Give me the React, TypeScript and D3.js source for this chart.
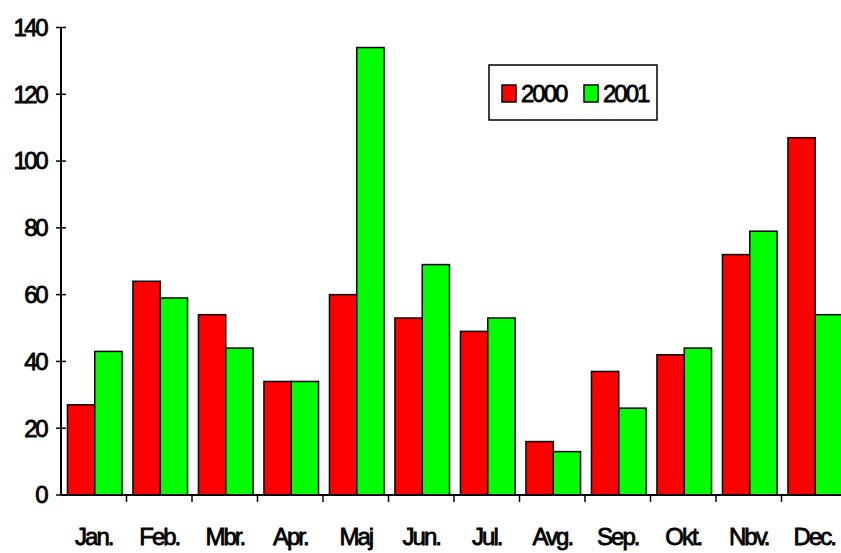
import React from 'react'
import * as d3 from 'd3'

const months = ['Jan.', 'Feb.', 'Mbr.', 'Apr.', 'Maj', 'Jun.', 'Jul.', 'Avg.', 'Sep.', 'Okt.', 'Nbv.', 'Dec.']
const series = ['2000', '2001']
const values2000 = [27, 64, 54, 34, 60, 53, 49, 16, 37, 42, 72, 107]
const values2001 = [43, 59, 44, 34, 134, 69, 53, 13, 26, 44, 79, 54]
const yTicks = [0, 20, 40, 60, 80, 100, 120, 140]
const colors = ['#ff0000', '#00ff00']

const W = 841
const H = 553
const font = '"Liberation Sans", Arial, sans-serif'

export default function App() {
  const x0 = d3.scaleBand().domain(months).range([61, 847]).paddingInner(0).paddingOuter(0)
  const x1 = d3.scaleBand().domain(series).range([0, x0.bandwidth()]).paddingInner(0).paddingOuter(0.2)
  const y = d3.scaleLinear().domain([0, 140]).range([495, 27.5])
  const data = [values2000, values2001]

  return (
    <svg width={W} height={H} style={{ position: 'absolute', left: 0, top: 0, background: '#fff' }}>
      <rect width={W} height={H} fill="#fff" />
      {months.map((m, i) => (
        <g key={m} transform={`translate(${x0(m)! + 1},0)`}>
          {series.map((s, j) => (
            <rect
              key={s}
              x={x1(s)}
              y={y(data[j][i])}
              width={x1.bandwidth()}
              height={y(0) - y(data[j][i])}
              fill={colors[j]}
              stroke="#000"
              strokeWidth={1.5}
            />
          ))}
        </g>
      ))}
      {/* y axis */}
      <line x1={61} x2={61} y1={y(140)} y2={y(0)} stroke="#000" strokeWidth={2} />
      {yTicks.map(t => (
        <g key={t}>
          <line x1={56} x2={66} y1={y(t)} y2={y(t)} stroke="#000" strokeWidth={1.5} />
          <text
            x={46}
            y={y(t)}
            dy="0.35em"
            textAnchor="end"
            fontFamily={font}
            fontSize={24}
            letterSpacing={-2.5}
            stroke="#000"
            strokeWidth={0.8}
          >
            {t}
          </text>
        </g>
      ))}
      {/* x axis */}
      <line x1={61} x2={W} y1={y(0)} y2={y(0)} stroke="#000" strokeWidth={2} />
      {months.map(m => (
        <line key={m} x1={x0(m)! + x0.bandwidth()} x2={x0(m)! + x0.bandwidth()} y1={y(0)} y2={y(0) + 7} stroke="#000" strokeWidth={1.5} />
      ))}
      {months.map(m => (
        <text
          key={m}
          x={x0(m)! + x0.bandwidth() / 2}
          y={545}
          textAnchor="middle"
          fontFamily={font}
          fontSize={24}
          letterSpacing={-2}
          stroke="#000"
          strokeWidth={0.8}
        >
          {m}
        </text>
      ))}
      {/* legend */}
      <rect x={489} y={65} width={168} height={55} fill="#fff" stroke="#000" strokeWidth={1.5} />
      {series.map((s, j) => (
        <g key={s} transform={`translate(${502 + j * 82},0)`}>
          <rect x={0} y={85} width={14} height={17} fill={colors[j]} stroke="#000" strokeWidth={1.5} />
          <text x={19} y={102} fontFamily={font} fontSize={24} letterSpacing={-2} stroke="#000" strokeWidth={0.8}>
            {s}
          </text>
        </g>
      ))}
    </svg>
  )
}
